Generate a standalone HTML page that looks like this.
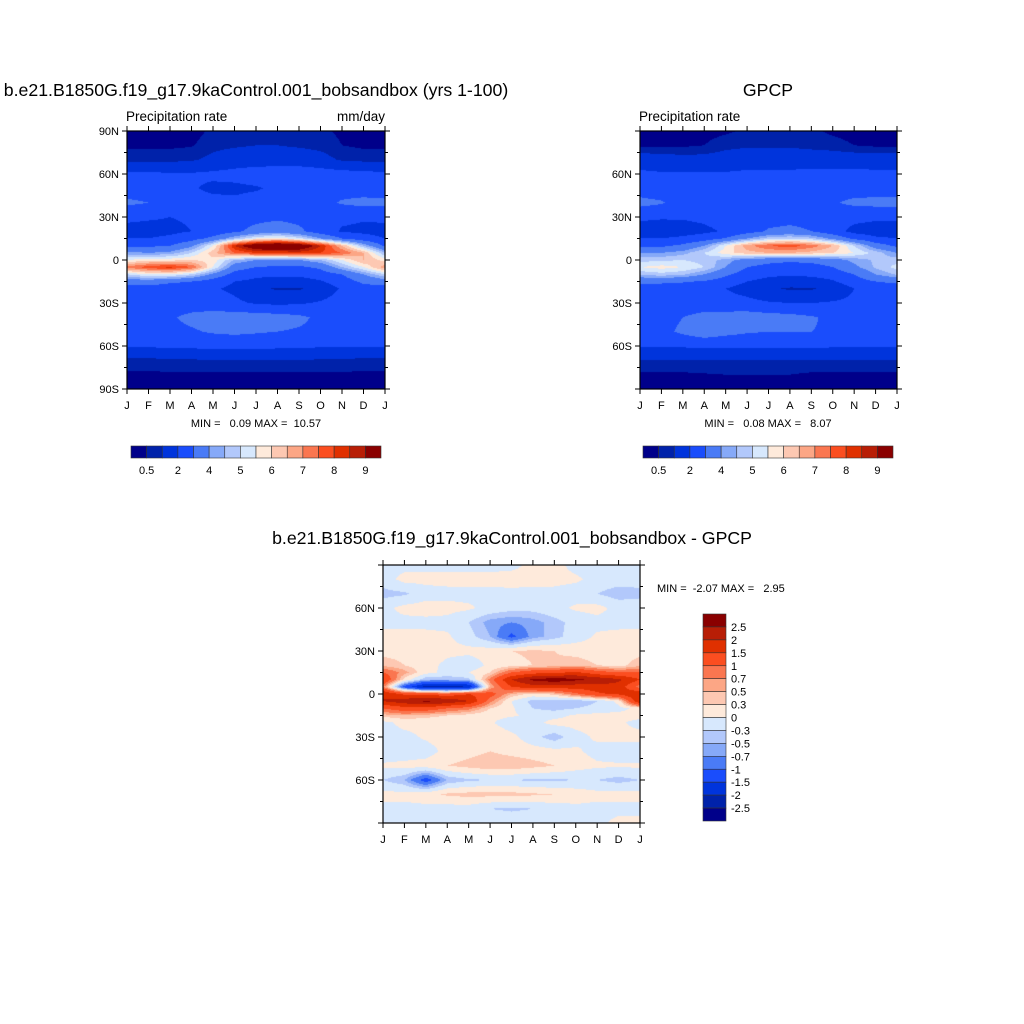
<!DOCTYPE html>
<html><head><meta charset="utf-8">
<style>
html,body{margin:0;padding:0;background:#fff;}
#root{position:relative;width:1024px;height:1024px;overflow:hidden;font-family:"Liberation Sans",sans-serif;}
canvas{position:absolute;}
svg{position:absolute;left:0;top:0;}
svg text{white-space:pre;}
</style></head>
<body>
<div id="root">
<canvas id="c1" width="258" height="258" style="left:127px;top:131px"></canvas>
<canvas id="c2" width="257" height="258" style="left:640px;top:131px"></canvas>
<canvas id="c3" width="257" height="258" style="left:383px;top:565px"></canvas>
<svg id="ov" width="1024" height="1024"></svg>
</div>
<script>
const months = ["J","F","M","A","M","J","J","A","S","O","N","D","J"];
const lats = [90,80,70,60,50,40,30,20,15,10,5,0,-5,-10,-15,-20,-30,-40,-50,-60,-70,-80,-90];
const precipLevels = [0.5,1,2,3,4,4.5,5,5.5,6,6.5,7,7.5,8,8.5,9];
const precipLabels = ["0.5","","2","","4","","5","","6","","7","","8","","9"];
const diffLevels = [-2.5,-2,-1.5,-1,-0.7,-0.5,-0.3,0,0.3,0.5,0.7,1,1.5,2,2.5];
const diffLabels = ["-2.5","-2","-1.5","-1","-0.7","-0.5","-0.3","0","0.3","0.5","0.7","1","1.5","2","2.5"];
const palette = ["#00008a","#0022aa","#0034dc","#1a4dfc","#4a7bf6","#86a9f8","#b2c8fb","#d7e8fd","#feeadb","#fdc8b2","#fca685","#fa7650","#fb4e20","#e03000","#b81e06","#8a0000"];
const modelGrid = [
[.3,.3,.3,.3,.6,.7,.8,.8,.7,.6,.4,.3,.3],
[.4,.4,.4,.45,.8,.9,1,1,.9,.8,.5,.4,.4],
[.8,.8,.8,.9,1.2,1.5,1.5,1.5,1.5,1.3,.9,.8,.8],
[2.2,2.2,2.1,2.1,2.2,2.3,2.5,2.6,2.6,2.5,2.4,2.3,2.2],
[2.5,2.4,2.2,2.1,1.8,1.8,1.9,2.2,2.5,2.6,2.6,2.5,2.5],
[3.2,3.0,2.6,2.4,2.3,2.2,2.4,2.6,2.6,2.7,3.1,3.3,3.2],
[2.2,2.1,2.0,2.1,2.3,2.6,2.7,2.8,2.7,2.5,2.2,2.1,2.2],
[1.7,1.7,1.8,2.0,2.3,2.8,3.3,3.6,3.2,2.5,1.9,1.8,1.7],
[2.0,2.0,2.2,2.6,3.3,4.5,5.5,5.8,5.2,4.0,3.0,2.4,2.0],
[2.8,2.8,3.0,3.8,5.5,8.5,10,10.5,10,8.5,6.5,4.5,2.8],
[4.2,4.0,4.2,5,6.3,7.5,8,8,8.2,8,7.5,6.5,4.5],
[5.5,5.8,5.8,6,5.8,4.5,4,4,4,4.5,5.5,6.5,5.8],
[7.2,7.8,8.2,7.5,5.5,3.5,3,2.8,2.8,3.2,4.5,5.5,6.8],
[5,5.5,5.5,5,3.8,2.6,2.2,2.2,2.2,2.5,3,4,5],
[3.5,3.5,3.2,3,2.5,2.0,1.8,1.6,1.6,1.9,2.5,3.2,3.5],
[2.6,2.6,2.4,2.3,2.1,1.8,1.2,0.9,0.9,1.4,2.1,2.6,2.6],
[2.4,2.5,2.6,2.6,2.5,2.2,1.9,1.8,1.9,2.1,2.4,2.5,2.4],
[2.6,2.7,2.9,3.2,3.4,3.5,3.5,3.4,3.2,2.8,2.7,2.7,2.6],
[2.6,2.7,2.8,2.9,3.1,3.2,3.1,3.0,2.9,2.8,2.7,2.6,2.6],
[2.1,2.1,2.2,2.2,2.3,2.3,2.3,2.2,2.2,2.1,2.1,2.1,2.1],
[0.8,0.8,0.9,0.9,1.0,1.0,1.0,1.0,1.0,0.9,0.9,0.8,0.8],
[.4,.4,.4,.4,.4,.4,.4,.4,.4,.4,.4,.4,.4],
[.3,.3,.3,.3,.3,.3,.3,.3,.3,.3,.3,.3,.3]];
const gpcpGrid = [
[.3,.3,.3,.3,.4,.6,.7,.7,.6,.4,.3,.3,.3],
[.4,.4,.4,.5,.8,.9,.9,.9,.8,.7,.5,.4,.4],
[1.5,1.4,1.3,1.3,1.4,1.5,1.5,1.5,1.5,1.5,1.5,1.5,1.5],
[2.2,2.1,2.1,2.1,2.1,2.2,2.2,2.2,2.3,2.3,2.3,2.2,2.2],
[2.5,2.4,2.2,2.1,2.0,2.0,2.1,2.3,2.5,2.6,2.6,2.5,2.5],
[3.3,3.1,2.6,2.3,2.2,2.2,2.3,2.5,2.7,2.9,3.2,3.3,3.3],
[2.2,2.1,2.1,2.2,2.4,2.5,2.6,2.6,2.6,2.5,2.3,2.2,2.2],
[1.5,1.5,1.6,1.8,2.1,2.6,3.1,3.3,3.0,2.4,1.7,1.5,1.5],
[2.0,2.0,2.2,2.5,3.1,4.0,4.8,5.0,4.7,3.8,2.8,2.2,2.0],
[2.8,2.8,3.2,4.0,5.5,6.8,7.5,7.8,7.3,6.5,5,3.5,2.8],
[4.0,4.0,4.3,5.0,5.8,6.3,6.5,6.5,6.3,6.0,5.5,4.8,4.0],
[4.8,4.9,5.0,4.8,4.3,3.6,3.3,3.2,3.3,3.6,4.2,4.6,4.8],
[5.5,5.7,5.5,5.0,4.0,3.0,2.7,2.5,2.6,3.0,3.8,4.6,5.2],
[4.6,4.8,4.6,4.0,3.2,2.5,2.2,2.1,2.2,2.4,3.0,4.0,4.6],
[3.2,3.2,3.1,2.9,2.5,2.0,1.7,1.5,1.6,1.9,2.5,3.0,3.2],
[2.5,2.5,2.4,2.3,2.0,1.6,1.1,0.9,0.9,1.3,2.0,2.4,2.5],
[2.3,2.4,2.5,2.5,2.4,2.3,2.1,2.0,2.0,2.1,2.2,2.3,2.3],
[2.5,2.6,3.0,3.3,3.4,3.5,3.4,3.3,3.1,2.8,2.6,2.5,2.5],
[2.6,2.7,3.2,3.6,3.3,3.1,3.0,3.0,3.0,2.9,2.8,2.6,2.6],
[2.1,2.1,2.1,2.2,2.2,2.2,2.2,2.2,2.2,2.1,2.1,2.1,2.1],
[1.0,1.0,1.0,1.0,1.0,1.0,1.0,1.0,1.0,1.0,1.0,1.0,1.0],
[.4,.4,.4,.45,.5,.5,.5,.5,.4,.4,.4,.4,.4],
[.3,.3,.3,.3,.3,.3,.3,.3,.3,.3,.3,.3,.3]];
const diffGrid = [
[-.1,-.1,-.1,-.1,-.1,-.1,-.1,.1,.1,-.1,-.1,-.1,-.1],
[-.15,.1,.1,.1,.1,.1,.15,.1,.1,.05,-.1,-.15,-.15],
[-.4,-.35,-.15,-.1,-.1,-.1,-.1,-.1,-.1,-.15,-.3,-.45,-.4],
[-.1,.1,.15,.1,.05,-.1,-.2,-.2,-.1,.05,.1,-.1,-.1],
[-.1,-.1,-.1,-.1,-.3,-.6,-.7,-.6,-.4,-.2,-.1,-.1,-.1],
[.1,.1,.1,.05,-.2,-.5,-1.1,-.6,-.4,-.15,.05,.1,.1],
[.2,.2,.2,.1,.1,.15,.3,.35,.3,.2,.15,.15,.2],
[.45,.3,.15,-.1,-.25,.1,.2,.3,.35,.45,.3,.2,.45],
[1.0,.6,.1,-.1,0,.3,1.0,1.3,1.4,1.6,1.2,1.0,1.0],
[1.5,.2,-.5,-.5,-.4,.8,2.0,2.6,2.8,2.6,2.4,2.1,1.5],
[.8,-1.2,-2.2,-2.3,-2.0,.5,1.5,1.8,1.8,1.7,1.8,1.8,.8],
[2.0,1.4,1.3,1.2,1.5,1.2,.5,.2,.4,.9,1.4,1.6,2.0],
[2.0,2.3,2.6,2.4,2.0,.8,0,-.4,-.5,-.5,-.3,.1,2.0],
[1.0,1.3,1.3,1.0,.8,.3,.05,-.3,-.4,-.3,-.2,-.1,.1],
[.4,.5,.4,.3,.2,.1,.05,-.1,-.1,.05,.1,.1,.1],
[-.1,.1,.1,.05,.1,.05,-.2,-.1,.1,.1,.1,.05,-.1],
[-.1,-.1,.05,.15,.2,.25,.1,-.2,-.45,-.1,.05,.1,.1],
[-.2,-.2,-.15,.1,.2,.3,.2,.15,.1,.05,-.1,-.2,-.2],
[.05,.1,.15,.3,.4,.5,.5,.4,.3,.15,.05,.05,.05],
[-.3,-.5,-1.2,-.5,-.35,-.3,-.3,-.35,-.35,-.3,-.3,-.4,-.3],
[.1,.1,.2,.35,.4,.4,.4,.35,.3,.2,.1,.1,.1],
[-.1,-.1,-.1,-.15,-.15,-.3,-.35,-.3,-.2,-.1,-.1,-.1,-.1],
[-.1,-.1,-.1,-.1,-.1,-.1,-.1,-.1,-.1,-.1,-.1,.1,.1]];

function hex(c){return [parseInt(c.slice(1,3),16),parseInt(c.slice(3,5),16),parseInt(c.slice(5,7),16)];}
const palRGB = palette.map(hex);
function levelIndex(v,levels){let i=0;while(i<levels.length&&v>=levels[i])i++;return i;}
function sample(grid,fx,lat){
  let r=0;while(r<lats.length-2&&lat<lats[r+1])r++;
  const t=(lats[r]-lat)/(lats[r]-lats[r+1]);
  let c=Math.min(11,Math.floor(fx));const s=fx-c;
  const a=grid[r][c],b=grid[r][c+1],d=grid[r+1][c],e=grid[r+1][c+1];
  return (a*(1-s)+b*s)*(1-t)+(d*(1-s)+e*s)*t;
}
function drawField(id,grid,levels){
  const cv=document.getElementById(id),ctx=cv.getContext('2d');
  const W=cv.width,H=cv.height,img=ctx.createImageData(W,H);
  for(let y=0;y<H;y++){const lat=90-180*(y+0.5)/H;
    for(let x=0;x<W;x++){const fx=12*(x+0.5)/W;
      const v=sample(grid,fx,lat);const col=palRGB[levelIndex(v,levels)];
      const k=(y*W+x)*4;img.data[k]=col[0];img.data[k+1]=col[1];img.data[k+2]=col[2];img.data[k+3]=255;}}
  ctx.putImageData(img,0,0);
}
drawField('c1',modelGrid,precipLevels);
drawField('c2',gpcpGrid,precipLevels);
drawField('c3',diffGrid,diffLevels);

const NS="http://www.w3.org/2000/svg";const ov=document.getElementById('ov');
function el(tag,attrs,parent){const e=document.createElementNS(NS,tag);for(const k in attrs)e.setAttribute(k,attrs[k]);(parent||ov).appendChild(e);return e;}
function txt(x,y,s,size,anchor,name){const t=el('text',{x:x,y:y,'font-size':size,'text-anchor':anchor||'start',fill:'#000','font-family':'Liberation Sans, sans-serif'});t.textContent=s;


return t;}
function axes(x0,y0,w,h,showPoles,prefix){
  const g=el('g',{});
  
  
  el('rect',{x:x0,y:y0,width:w,height:h,fill:'none',stroke:'#000','stroke-width':1.2},g);
  const xs=d=>x0+w*d/12, ys=l=>y0+h*(90-l)/180;
  months.forEach((m,i)=>{const x=xs(i);
    el('line',{x1:x,y1:y0+h,x2:x,y2:y0+h+5,stroke:'#000'},g);
    el('line',{x1:x,y1:y0,x2:x,y2:y0-5,stroke:'#000'},g);
    txt(x,y0+h+20,m,11,'middle',prefix+'-month-label');});
  for(let l=-90;l<=90;l+=15){const y=ys(l);const L=(l%30===0)?5:3;
    el('line',{x1:x0,y1:y,x2:x0-L,y2:y,stroke:'#000'},g);
    el('line',{x1:x0+w,y1:y,x2:x0+w+L,y2:y,stroke:'#000'},g);
    if(l%30===0&&(showPoles||Math.abs(l)<90)){
      const s=l===0?'0':(Math.abs(l)+(l>0?'N':'S'));
      txt(x0-8,y+4,s,11,'end',prefix+'-lat-label');}}
}
axes(127,131,258,258,true,'model');
axes(640,131,257,258,false,'gpcp');
axes(383,565,257,258,false,'diff');

function hbar(x0,y0,w,h,prefix){
  const n=palette.length,bw=w/n;
  palette.forEach((c,i)=>{const r=el('rect',{x:x0+i*bw,y:y0,width:bw,height:h,fill:c,stroke:'#333','stroke-width':0.6});
    
    });
  precipLabels.forEach((s,i)=>{if(s)txt(x0+(i+1)*bw,y0+h+16,s,11,'middle',prefix+'-colorbar-label');});
}
hbar(131,446,250,12,'model');
hbar(643,446,250,12,'gpcp');
(function(){const x0=703,y0=614,w=23,h=207,n=palette.length,bh=h/n;
  palette.slice().reverse().forEach((c,i)=>{const r=el('rect',{x:x0,y:y0+i*bh,width:w,height:bh,fill:c,stroke:'#333','stroke-width':0.6});
    
    });
  diffLabels.slice().reverse().forEach((s,i)=>{txt(x0+w+5,y0+(i+1)*bh+4,s,11,'start','diff-colorbar-label');});
})();
txt(256,96,"b.e21.B1850G.f19_g17.9kaControl.001_bobsandbox (yrs 1-100)",17.7,'middle','model-title');
txt(768,96,"GPCP",17.7,'middle','gpcp-title');
txt(512,544,"b.e21.B1850G.f19_g17.9kaControl.001_bobsandbox - GPCP",17.7,'middle','diff-title');
txt(126,121,"Precipitation rate",13.5,'start','model-variable-label');
txt(385,121,"mm/day",13.5,'end','model-units-label');
txt(639,121,"Precipitation rate",13.5,'start','gpcp-variable-label');
txt(256,427,"MIN =   0.09 MAX =  10.57",11,'middle','model-minmax');
txt(768,427,"MIN =   0.08 MAX =   8.07",11,'middle','gpcp-minmax');
txt(657,592,"MIN =  -2.07 MAX =   2.95",11,'start','diff-minmax');
</script>
</body></html>
